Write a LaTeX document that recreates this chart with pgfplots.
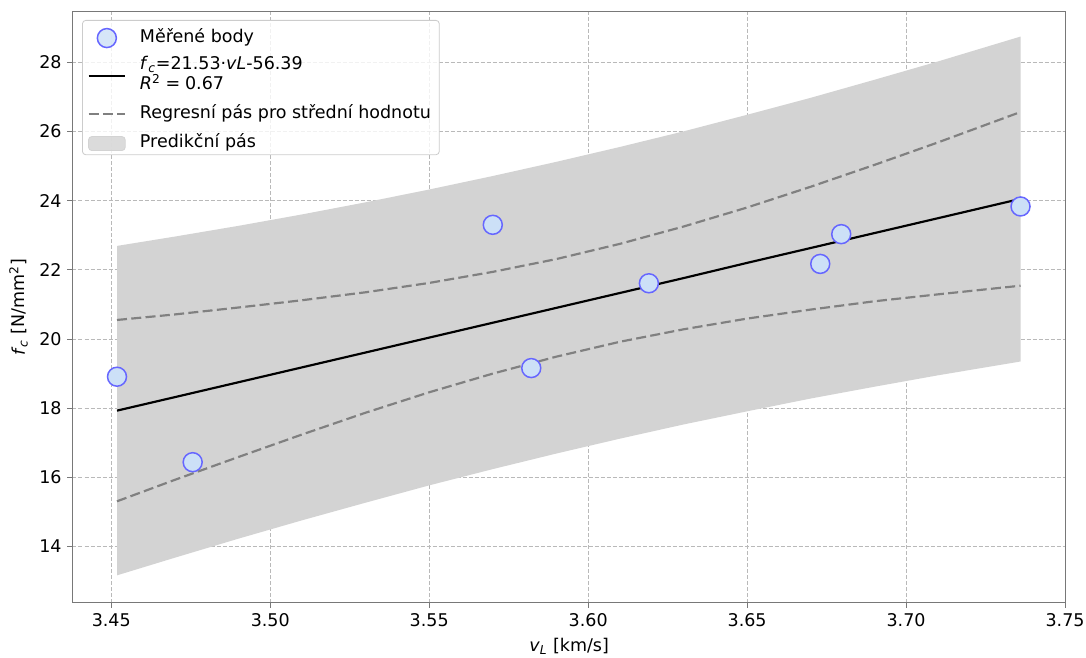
\documentclass[border=0pt]{standalone}
\usepackage{fontspec}
\setmainfont{DejaVu Sans}
\usepackage{pgfplots}
\pgfplotsset{compat=1.18}
\usepackage{pgfplotstable}
\usepgfplotslibrary{fillbetween}

\definecolor{bandgray}{RGB}{211,211,211}
\definecolor{confgray}{RGB}{128,128,128}
\definecolor{gridgray}{RGB}{185,185,185}
\definecolor{spinegray}{RGB}{120,120,120}
\definecolor{legendgray}{RGB}{204,204,204}
\definecolor{ptedge}{RGB}{102,102,255}
\definecolor{ptface}{RGB}{204,224,247}

% fitted line, confidence band (mean) and prediction band
\pgfplotstableread{
x      fit    clo    chi    plo    phi
3.4518 17.93  15.31  20.55  13.17  22.69
3.4700 18.32  15.93  20.71  13.68  22.96
3.4900 18.75  16.59  20.91  14.23  23.27
3.5100 19.18  17.24  21.12  14.76  23.60
3.5300 19.61  17.87  21.35  15.27  23.95
3.5500 20.04  18.46  21.62  15.77  24.32
3.5700 20.47  19.00  21.94  16.24  24.71
3.5900 20.90  19.49  22.31  16.69  25.12
3.6100 21.33  19.92  22.75  17.12  25.55
3.6300 21.76  20.28  23.25  17.53  26.00
3.6500 22.20  20.59  23.80  17.91  26.48
3.6700 22.63  20.85  24.40  18.28  26.97
3.6900 23.06  21.09  25.03  18.62  27.49
3.7100 23.49  21.29  25.68  18.95  28.02
3.7360 24.05  21.54  26.56  19.35  28.74
}\bands

% measured points
\pgfplotstableread{
x      y
3.4518 18.91
3.4756 16.44
3.5700 23.30
3.5821 19.16
3.6191 21.61
3.6730 22.17
3.6796 23.03
3.7360 23.83
}\measured

% legend sample for the regression line, lowered between the two text lines
\pgfplotsset{
  lowered line legend/.style={
    legend image code/.code={\path (0pt,0pt) (22pt,0pt); \draw[##1, overlay] (0pt,-6pt) -- (22pt,-6pt);}},
  band legend/.style={
    legend image code/.code={\fill[bandgray] (0pt,-4.2pt) rectangle (22pt,4.2pt);}},
}

\begin{document}
\begin{tikzpicture}[font=\fontsize{10.5}{12.6}\selectfont]
\begin{axis}[
  set layers,
  scale only axis, width=595.9pt, height=354.4pt,
  xmin=3.4378, xmax=3.7502, ymin=12.38, ymax=29.45,
  xtick={3.45,3.5,3.55,3.6,3.65,3.7,3.75},
  ytick={14,16,18,20,22,24,26,28},
  /pgf/number format/assume math mode=true,
  xticklabel style={/pgf/number format/.cd, fixed, fixed zerofill, precision=2},
  tick align=outside, tick pos=left, major tick length=3pt,
  every tick/.style={spinegray, line width=0.5pt},
  axis line style={spinegray, line width=0.6pt},
  grid=major,
  major grid style={gridgray, dash pattern=on 2.4pt off 1.2pt, line width=0.5pt},
  xlabel={\textit{v}\textsubscript{\textit{L}} [km/s]},
  ylabel={\textit{f}\textsubscript{\textit{c}} [N/mm\textsuperscript{2}]},
  legend image code/.code={\draw[mark repeat=2,mark phase=2,#1] plot coordinates {(0pt,0pt) (11pt,0pt) (22pt,0pt)};},
  legend style={at={(0.0096,0.9865)}, anchor=north west,
    draw=legendgray, line width=0.5pt, fill=white, fill opacity=0.8, text opacity=1,
    rounded corners=2pt, inner xsep=3pt, inner ysep=0pt, row sep=0pt, column sep=6.2pt,
    cells={anchor=west, align=left}},
]
% legend entries
\addlegendimage{only marks, mark=*, mark size=5.7pt,
  mark options={draw=ptedge, fill=ptface, line width=0.9pt}}
\addlegendentry[text height=13.1pt, text depth=8.1pt, inner ysep=0pt]{Měřené body}
\addlegendimage{black, line width=1.3pt, lowered line legend}
\addlegendentry[text height=8.5pt, text depth=3.5pt, inner ysep=0pt]{\textit{f}\textsubscript{\textit{c}}=21.53·\textit{vL}-56.39}
\addlegendimage{empty legend}
\addlegendentry[text height=8.5pt, text depth=3.5pt, inner ysep=0pt]{\textit{R}\textsuperscript{2}\;=\;0.67}
\addlegendimage{confgray, line width=1.3pt, dash pattern=on 6pt off 2.6pt}
\addlegendentry[text height=13.5pt, text depth=8.5pt, inner ysep=0pt]{Regresní pás pro střední hodnotu}
\addlegendimage{area legend, band legend}
\addlegendentry[text height=9.2pt, text depth=4.2pt, inner ysep=0pt]{Predikční pás}

% prediction band
\addplot[draw=none, name path=plo, forget plot] table[x=x, y=plo]{\bands};
\addplot[draw=none, name path=phi, forget plot] table[x=x, y=phi]{\bands};
\addplot[fill=bandgray, draw=none, on layer=axis background, forget plot]
  fill between[of=phi and plo];

% confidence band for the mean
\addplot[confgray, line width=1.3pt, dash pattern=on 6pt off 2.6pt, forget plot] table[x=x, y=chi]{\bands};
\addplot[confgray, line width=1.3pt, dash pattern=on 6pt off 2.6pt, forget plot] table[x=x, y=clo]{\bands};

% regression line
\addplot[black, line width=1.3pt, forget plot] table[x=x, y=fit]{\bands};

% measured points
\addplot[only marks, mark=*, mark size=5.7pt, forget plot,
  mark options={draw=ptedge, fill=ptface, line width=0.9pt}] table[x=x, y=y]{\measured};
\end{axis}
\pgfresetboundingbox
\path[use as bounding box] ([xshift=-43.5pt,yshift=-32.6pt]current axis.south west)
  rectangle ([xshift=12.2pt,yshift=7.2pt]current axis.north east);
\end{tikzpicture}
\end{document}
